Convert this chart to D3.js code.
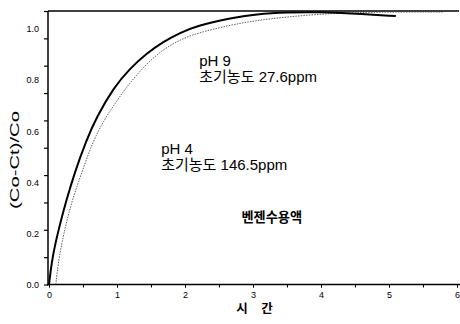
<!DOCTYPE html>
<html lang="ko">
<head>
<meta charset="UTF-8">
<title>benzene removal</title>
<style>
    body { margin: 0; background: #fff; }
    svg { display: block; }
    text { font-family: "Liberation Sans", Arial, "Noto Sans CJK KR", sans-serif; fill: #000; }
    .axis path, .axis line { stroke: #000; }
</style>
</head>
<body>
<svg id="chart"></svg>
<script src="https://d3js.org/d3.v7.min.js"></script>
<script>
// solid curve
var solidTime  = [0, 0.05, 0.15, 0.25, 0.38, 0.55, 0.7, 0.95, 1.19, 1.44, 1.68, 1.93, 2.17, 2.66, 3.05, 3.5, 4.0, 4.5, 5.1];
var solidValue = [0, 0.11, 0.225, 0.325, 0.44, 0.565, 0.655, 0.77, 0.845, 0.905, 0.95, 0.985, 1.012, 1.042, 1.058, 1.065, 1.066, 1.06, 1.05];
// dotted curve
var dotTime  = [0.1, 0.147, 0.235, 0.34, 0.48, 0.63, 0.8, 1.0, 1.19, 1.44, 1.68, 1.93, 2.17, 2.66, 3.05, 3.5, 4.0, 4.5, 5.0, 5.8];
var dotValue = [0, 0.11, 0.22, 0.33, 0.436, 0.55, 0.64, 0.72, 0.79, 0.865, 0.92, 0.958, 0.983, 1.015, 1.033, 1.047, 1.058, 1.064, 1.066, 1.066];

var xTicks = [0, 1, 2, 3, 4, 5, 6];
var yTicks = [0, 0.2, 0.4, 0.6, 0.8, 1.0];
var notes = [
    { lines: ["pH 9", "초기농도 27.6ppm"], t: 2.21, v: 0.855 },
    { lines: ["pH 4", "초기농도 146.5ppm"], t: 1.65, v: 0.51 },
];

var w = 460, h = 324;
var svg = d3.select("#chart").attr("width", w).attr("height", h);

var yTop = 1.07;
var x = d3.scaleLinear().domain([0, 6]).range([49, 457]);
var y = d3.scaleLinear().domain([0, yTop]).range([284.5, 11]);

// frame: top line
svg.append("line")
    .attr("x1", 48).attr("x2", 459)
    .attr("y1", y(yTop)).attr("y2", y(yTop))
    .attr("stroke", "#000").attr("stroke-width", 1.5);

// x axis
var xAxis = svg.append("g").attr("class", "axis")
    .attr("transform", "translate(0," + y(0) + ")");
xAxis.append("line").attr("x1", 47).attr("x2", 460)
    .attr("stroke", "#000").attr("stroke-width", 1.5);
xAxis.append("g")
    .call(d3.axisBottom(x).tickValues(d3.range(0, 6.01, 0.5)).tickSize(3).tickFormat(""))
    .call(g => g.select(".domain").remove());
xAxis.append("g")
    .call(d3.axisBottom(x).tickValues(xTicks).tickSize(3).tickPadding(4).tickFormat(d3.format("d")))
    .call(g => g.select(".domain").remove())
    .call(g => g.selectAll("text").attr("font-size", 9).attr("font-family", "Liberation Sans, Arial"));

// y axis
var yAxis = svg.append("g").attr("class", "axis")
    .attr("transform", "translate(48,0)");
yAxis.append("line").attr("y1", y(0) + 1).attr("y2", y(yTop))
    .attr("stroke", "#000").attr("stroke-width", 1.5);
yAxis.append("g")
    .call(d3.axisLeft(y).tickValues(d3.range(11).map(k => k * yTop / 10)).tickSize(4).tickFormat(""))
    .call(g => g.select(".domain").remove())
    .selectAll("line").attr("stroke-width", 1.2);
yAxis.append("g")
    .call(d3.axisLeft(y).tickValues(yTicks).tickSize(0).tickPadding(9).tickFormat(d3.format(".1f")))
    .call(g => g.select(".domain").remove())
    .call(g => g.selectAll("text").attr("font-size", 9).attr("font-family", "Liberation Sans, Arial"));

// curves
var line = d3.line()
    .x(d => x(d[0]))
    .y(d => y(d[1]))
    .curve(d3.curveBasis);

svg.append("path")
    .datum(d3.zip(dotTime, dotValue))
    .attr("d", line)
    .attr("fill", "none")
    .attr("stroke", "#333")
    .attr("stroke-width", 0.8)
    .attr("stroke-dasharray", "1.5,1.2");

svg.append("path")
    .datum(d3.zip(solidTime, solidValue))
    .attr("d", line)
    .attr("fill", "none")
    .attr("stroke", "#000")
    .attr("stroke-width", 2);

// annotations
notes.forEach(function (n) {
    var t = svg.append("text")
        .attr("x", x(n.t)).attr("y", y(n.v))
        .attr("font-size", 15);
    n.lines.forEach(function (s, i) {
        t.append("tspan").attr("x", x(n.t)).attr("dy", i == 0 ? 0 : 16).text(s);
    });
});

svg.append("text")
    .attr("x", x(2.83)).attr("y", y(0.245))
    .attr("font-size", 13.2)
    .attr("font-weight", "bold")
    .text("벤젠수용액");

// axis titles
svg.append("text")
    .attr("x", 257).attr("y", 313)
    .attr("text-anchor", "middle")
    .attr("font-size", 12.5)
    .attr("font-weight", "bold")
    .attr("letter-spacing", 5)
    .text("시 간");

svg.append("text")
    .attr("transform", "translate(19,160) rotate(-90)")
    .attr("text-anchor", "middle")
    .attr("font-size", 13)
    .attr("textLength", 98)
    .attr("lengthAdjust", "spacingAndGlyphs")
    .text("(Co-Ct)/Co");
</script>
</body>
</html>
